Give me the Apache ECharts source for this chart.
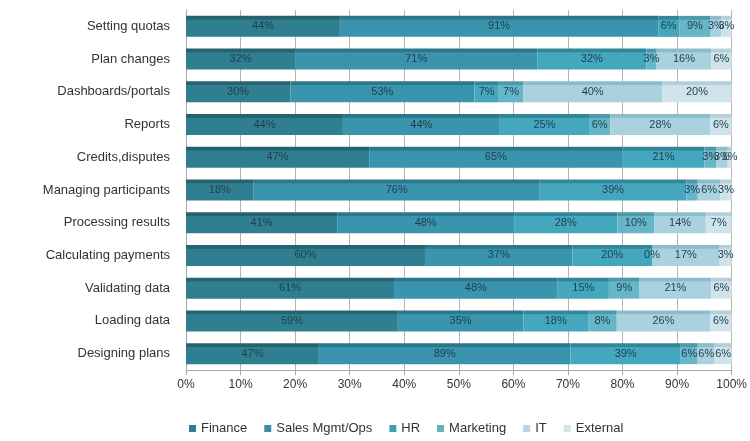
<!DOCTYPE html>
<html>
<head>
<meta charset="utf-8">
<style>
  html, body { margin: 0; padding: 0; background: #ffffff; }
  #chart { width: 750px; height: 441px; }
</style>
<script src="https://cdn.jsdelivr.net/npm/echarts@6/dist/echarts.min.js"></script>
</head>
<body>
<div id="chart"></div>
<script>
// Activities (top to bottom)
const categories = [
  'Setting quotas', 'Plan changes', 'Dashboards/portals', 'Reports',
  'Credits,disputes', 'Managing participants', 'Processing results',
  'Calculating payments', 'Validating data', 'Loading data', 'Designing plans'
];

// Share of respondents naming each function as responsible (%)
const finance   = [44, 32, 30, 44, 47, 18, 41, 60, 61, 59, 47];
const salesOps  = [91, 71, 53, 44, 65, 76, 48, 37, 48, 35, 89];
const hr        = [ 6, 32,  7, 25, 21, 39, 28, 20, 15, 18, 39];
const marketing = [ 9,  3,  7,  6,  3,  3, 10,  0,  9,  8,  6];
const it        = [ 3, 16, 40, 28,  3,  6, 14, 17, 21, 26,  6];
const external  = [ 3,  6, 20,  6,  1,  3,  7,  3,  6,  6,  6];

const xTicks = [0, 10, 20, 30, 40, 50, 60, 70, 80, 90, 100];

const seriesNames = ['Finance', 'Sales Mgmt/Ops', 'HR', 'Marketing', 'IT', 'External'];
const seriesValues = [finance, salesOps, hr, marketing, it, external];
const faceColors = ['#307f90', '#3b94ad', '#45a7bd', '#66b5c8', '#a9d2de', '#cfe3ea'];
const topColors  = ['#24636f', '#2c778c', '#33869a', '#4f97aa', '#8cbccb', '#b5cfd8'];
const legendColors = ['#2f7e90', '#3a8fa8', '#3f9fb3', '#6aaebd', '#b8d4de', '#d6e3e8'];

// Each row is drawn as a 100% stack of the stated values
const rowTotals = categories.map((_, i) =>
  seriesValues.reduce((s, arr) => s + arr[i], 0));

const series = seriesNames.map((name, k) => ({
  name: name,
  type: 'bar',
  stack: 'all',
  barWidth: 21,
  data: seriesValues[k].map((v, i) => ({ value: v / rowTotals[i] * 100, raw: v })),
  itemStyle: {
    color: {
      type: 'linear', x: 0, y: 0, x2: 0, y2: 1,
      colorStops: [
        { offset: 0, color: topColors[k] },
        { offset: 0.16, color: topColors[k] },
        { offset: 0.2, color: faceColors[k] },
        { offset: 1, color: faceColors[k] }
      ]
    }
  },
  label: {
    show: true,
    position: 'inside',
    color: '#1d3f4d',
    fontSize: 11,
    fontFamily: 'Liberation Sans, Arial, sans-serif',
    formatter: p => p.data.raw + '%'
  },
  emphasis: { disabled: true }
}));

const chart = echarts.init(document.getElementById('chart'), null, { renderer: 'canvas' });
chart.setOption({
  animation: false,
  backgroundColor: '#ffffff',
  textStyle: { fontFamily: 'Liberation Sans, Arial, sans-serif' },
  color: legendColors,
  grid: { left: 186, right: 13, top: 10, bottom: 71 },
  legend: {
    top: 417,
    left: 184,
    itemWidth: 7,
    itemHeight: 7,
    itemGap: 17,
    icon: 'rect',
    textStyle: { fontSize: 13, color: '#333' },
    data: seriesNames.map((n, k) => ({ name: n, itemStyle: { color: legendColors[k] } }))
  },
  xAxis: {
    type: 'value',
    min: xTicks[0],
    max: xTicks[xTicks.length - 1],
    interval: 10,
    axisLabel: {
      formatter: '{value}%',
      fontSize: 12,
      color: '#333',
      margin: 9
    },
    axisLine: { show: true, lineStyle: { color: '#a8a8a8' } },
    axisTick: { show: true, length: 5, lineStyle: { color: '#a8a8a8' } },
    splitLine: { show: true, lineStyle: { color: '#b4b4b4', width: 1 } }
  },
  yAxis: {
    type: 'category',
    data: categories,
    inverse: true,
    axisLabel: { fontSize: 13, color: '#333', margin: 16 },
    axisLine: { show: true, lineStyle: { color: '#a8a8a8' } },
    axisTick: { show: false }
  },
  series: series
});
</script>
</body>
</html>
